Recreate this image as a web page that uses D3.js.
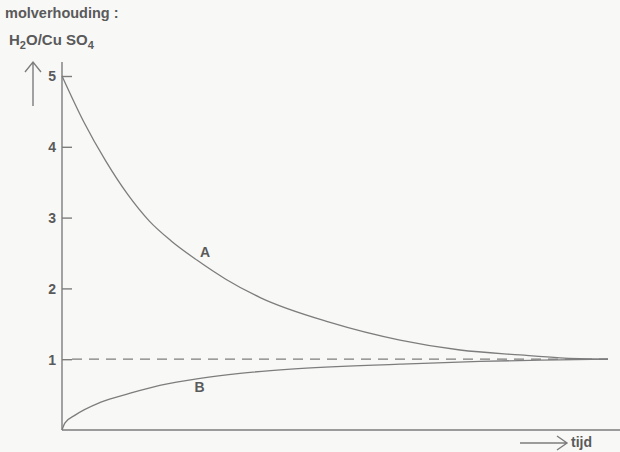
<!DOCTYPE html>
<html>
<head>
<meta charset="utf-8">
<script src="https://cdn.jsdelivr.net/npm/d3@7"></script>
<style>
  html, body { margin: 0; padding: 0; background: #f8f8f7; }
  svg { display: block; }
  text { font-family: "Liberation Sans", "DejaVu Sans", sans-serif; font-weight: bold; fill: #5a5a5a; }
</style>
</head>
<body>
<svg id="chart" width="620" height="452"></svg>
<script>
// Molar ratio H2O/CuSO4 over time (arbitrary time units 0–10)
const yTicks = [1, 2, 3, 4, 5];
const curveA_t = [0, 0.4, 0.8, 1.2, 1.6, 2.0, 2.47, 3.0, 3.63, 4.91, 6.19, 7.29, 8.39, 9.12, 10];
const curveA_v = [5.0, 4.35, 3.80, 3.33, 2.95, 2.67, 2.40, 2.13, 1.87, 1.52, 1.27, 1.13, 1.06, 1.02, 1.0];
const curveB_t = [0, 0.055, 0.24, 0.70, 1.25, 1.79, 2.53, 3.26, 4.19, 6.19, 7.66, 9.12, 10];
const curveB_v = [0, 0.10, 0.21, 0.39, 0.52, 0.63, 0.73, 0.80, 0.86, 0.93, 0.97, 0.99, 1.0];
const equilibrium = 1;
const labels = [
  { name: "A", t: 2.62, v: 2.45 },
  { name: "B", t: 2.52, v: 0.54 }
];

const svg = d3.select("#chart");
const ink = "#7d7d7d";

const x = d3.scaleLinear().domain([0, 10]).range([62, 608]);
const y = d3.scaleLinear().domain([0, 5]).range([430, 76]);

// axes
svg.append("line").attr("x1", 62).attr("x2", 620).attr("y1", y(0)).attr("y2", y(0))
  .attr("stroke", ink).attr("stroke-width", 1.4);
svg.append("line").attr("x1", x(0)).attr("x2", x(0)).attr("y1", 62).attr("y2", y(0))
  .attr("stroke", ink).attr("stroke-width", 1.4);

const yAxis = d3.axisRight(y).tickValues(yTicks).tickSize(10).tickFormat(d3.format("d"));
const gy = svg.append("g").attr("transform", `translate(${x(0)},0)`).call(yAxis);
gy.select(".domain").remove();
gy.selectAll(".tick line").attr("stroke", ink).attr("stroke-width", 1.4);
gy.selectAll(".tick text")
  .attr("x", -6).attr("text-anchor", "end").attr("dy", "0.35em")
  .style("font-size", "14px").style("fill", "#5a5a5a")
  .style("font-family", "'Liberation Sans', sans-serif").style("font-weight", "bold");

// equilibrium reference
svg.append("line")
  .attr("x1", x(0) + 10).attr("x2", x(10))
  .attr("y1", y(equilibrium)).attr("y2", y(equilibrium))
  .attr("stroke", ink).attr("stroke-width", 1.3).attr("stroke-dasharray", "10,7");

const line = d3.line().x(d => x(d[0])).y(d => y(d[1])).curve(d3.curveMonotoneX);
const dataA = curveA_t.map((t, i) => [t, curveA_v[i]]);
const dataB = curveB_t.map((t, i) => [t, curveB_v[i]]);

svg.append("path").datum(dataA).attr("d", line)
  .attr("fill", "none").attr("stroke", ink).attr("stroke-width", 1.3);
svg.append("path").datum(dataB).attr("d", line)
  .attr("fill", "none").attr("stroke", ink).attr("stroke-width", 1.3);

svg.selectAll("text.curve").data(labels).enter().append("text")
  .attr("class", "curve")
  .attr("x", d => x(d.t)).attr("y", d => y(d.v))
  .attr("text-anchor", "middle")
  .style("font-size", "14px")
  .text(d => d.name);

// y-axis title
svg.append("text").attr("x", 5).attr("y", 18).style("font-size", "14.5px")
  .text("molverhouding :");
const t2 = svg.append("text").attr("x", 9).attr("y", 45).style("font-size", "15px");
t2.append("tspan").text("H");
t2.append("tspan").attr("dy", 4).style("font-size", "11px").text("2");
t2.append("tspan").attr("dy", -4).text("O/Cu SO");
t2.append("tspan").attr("dy", 4).style("font-size", "11px").text("4");

// arrows
svg.append("path").attr("d", "M33,106 L33,63 M25,72 L33,62 L41,72")
  .attr("fill", "none").attr("stroke", ink).attr("stroke-width", 1.4);
svg.append("path").attr("d", "M520,443 L566,443 M557,436 L567,443 L557,450")
  .attr("fill", "none").attr("stroke", ink).attr("stroke-width", 1.4);
svg.append("text").attr("x", 571).attr("y", 447).style("font-size", "14px").text("tijd");
</script>
</body>
</html>
